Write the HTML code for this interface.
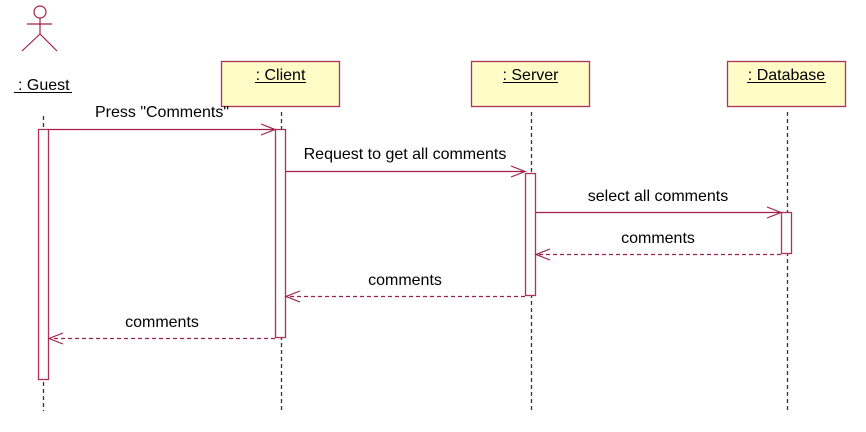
<!DOCTYPE html>
<html><head><meta charset="utf-8"><style>
html,body{margin:0;padding:0;background:#fff;}
svg{display:block;}
text{font-family:"Liberation Sans",Arial,sans-serif;font-size:16px;fill:#000;}
</style></head><body>
<svg width="866" height="432" viewBox="0 0 866 432" xmlns="http://www.w3.org/2000/svg">
<g stroke="#333" stroke-width="1.3" stroke-dasharray="4,3" fill="none">
<line x1="43.5" y1="116" x2="43.5" y2="411"/>
<line x1="281.5" y1="112" x2="281.5" y2="411"/>
<line x1="531.5" y1="112" x2="531.5" y2="411"/>
<line x1="787.5" y1="112" x2="787.5" y2="411"/>
</g>
<g stroke="#a0204a" stroke-width="1.2" fill="none">
<circle cx="40" cy="12" r="6"/>
<line x1="40" y1="18" x2="40" y2="34"/>
<line x1="27" y1="24" x2="52" y2="24"/>
<line x1="40" y1="34" x2="22" y2="51"/>
<line x1="40" y1="34" x2="57" y2="51"/>
</g>
<text x="18" y="90">: Guest</text>
<line x1="14" y1="92.5" x2="72" y2="92.5" stroke="#000" stroke-width="1"/>
<g stroke="#b0325a" stroke-width="1.3" fill="#fffcc8">
<rect x="221.5" y="61.5" width="118" height="45"/>
<rect x="471.5" y="61.5" width="118" height="45"/>
<rect x="727.5" y="61.5" width="118" height="45"/>
</g>
<text x="280.5" y="80" text-anchor="middle">: Client</text>
<line x1="255" y1="82.5" x2="306" y2="82.5" stroke="#000"/>
<text x="530.5" y="80" text-anchor="middle">: Server</text>
<line x1="503" y1="82.5" x2="558" y2="82.5" stroke="#000"/>
<text x="786.5" y="80" text-anchor="middle">: Database</text>
<line x1="747" y1="82.5" x2="826" y2="82.5" stroke="#000"/>
<g stroke="#b0325a" stroke-width="1.3" fill="#fff">
<rect x="38.5" y="129.5" width="10" height="250"/>
<rect x="275.5" y="129.5" width="10" height="208"/>
<rect x="525.5" y="173.5" width="10" height="122"/>
<rect x="781.5" y="212.5" width="10" height="41"/>
</g>
<g stroke="#a0204a" stroke-width="1.2" fill="none">
<line x1="48.5" y1="129.5" x2="275" y2="129.5"/>
<polyline points="261,124 275,129.5 261,135"/>
<line x1="285.5" y1="171.5" x2="525" y2="171.5"/>
<polyline points="511,166 525,171.5 511,177"/>
<line x1="535.5" y1="212.5" x2="781" y2="212.5"/>
<polyline points="767,207 781,212.5 767,218"/>
</g>
<g stroke="#a0204a" stroke-width="1.2" fill="none">
<line x1="781" y1="254.5" x2="536" y2="254.5" stroke-dasharray="4,3"/>
<polyline points="550,249 536,254.5 550,260"/>
<line x1="525" y1="296.5" x2="286" y2="296.5" stroke-dasharray="4,3"/>
<polyline points="300,291 286,296.5 300,302"/>
<line x1="275" y1="338.5" x2="49" y2="338.5" stroke-dasharray="4,3"/>
<polyline points="63,333 49,338.5 63,344"/>
</g>
<text x="162" y="117" text-anchor="middle">Press "Comments"</text>
<text x="405" y="159" text-anchor="middle">Request to get all comments</text>
<text x="658" y="201" text-anchor="middle">select all comments</text>
<text x="658" y="243" text-anchor="middle">comments</text>
<text x="405" y="285" text-anchor="middle">comments</text>
<text x="162" y="327" text-anchor="middle">comments</text>
</svg>
</body></html>
